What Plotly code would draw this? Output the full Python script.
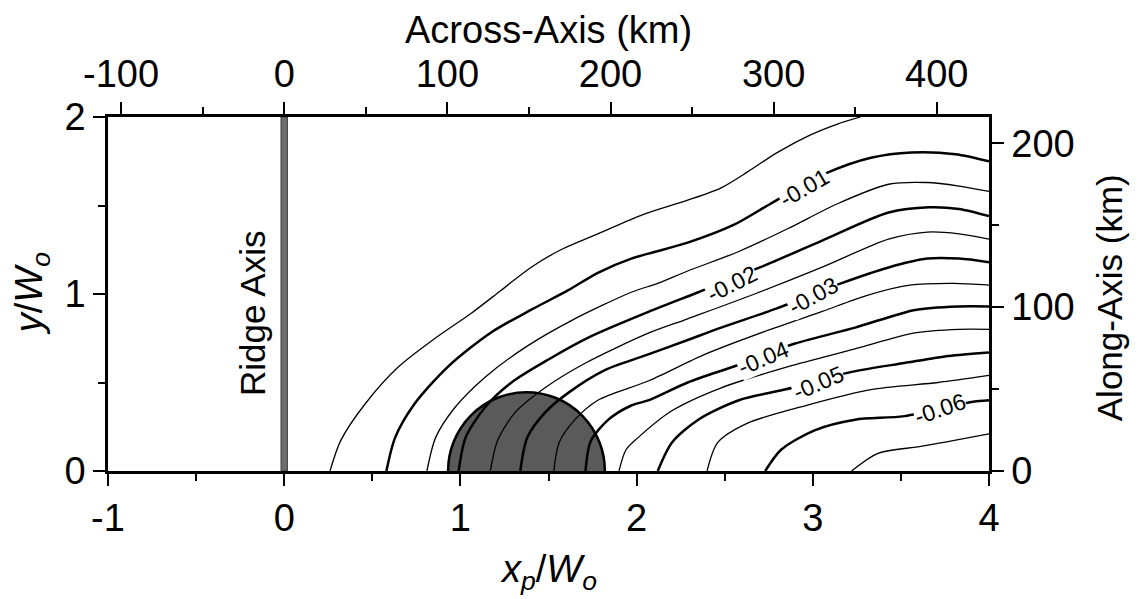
import plotly.graph_objects as go

# ---------------- data ----------------
W0_KM = 108.0  # km per unit of W0 (links top / right km axes)

x_ticks = [-1, 0, 1, 2, 3, 4]
y_ticks = [0, 1, 2]
across_ticks_km = [-100, 0, 100, 200, 300, 400]
along_ticks_km = [0, 100, 200]

levels = [-0.005, -0.01, -0.015, -0.02, -0.025, -0.03, -0.035,
          -0.04, -0.045, -0.05, -0.055, -0.06, -0.065]

c005_x = [0.26, 0.32, 0.46, 0.65, 0.87, 1.06, 1.23, 1.40, 1.57, 1.78, 2.04, 2.29, 2.48, 2.63, 2.80, 2.99, 3.14, 3.27]
c005_y = [0.00, 0.17, 0.38, 0.59, 0.76, 0.89, 1.02, 1.15, 1.25, 1.34, 1.45, 1.53, 1.60, 1.69, 1.80, 1.90, 1.96, 2.00]

c010_x = [0.58, 0.63, 0.74, 0.93, 1.17, 1.40, 1.61, 1.78, 1.97, 2.29, 2.55, 2.76, 3.07, 3.33, 3.56, 3.81, 4.00]
c010_y = [0.00, 0.19, 0.38, 0.59, 0.78, 0.91, 1.02, 1.12, 1.20, 1.29, 1.39, 1.51, 1.68, 1.77, 1.80, 1.79, 1.75]

c015_x = [0.81, 0.86, 0.97, 1.14, 1.37, 1.63, 1.97, 2.12, 2.29, 2.58, 2.86, 3.14, 3.43, 3.65, 3.83, 4.00]
c015_y = [0.00, 0.19, 0.36, 0.53, 0.70, 0.85, 1.01, 1.06, 1.13, 1.24, 1.37, 1.51, 1.62, 1.63, 1.61, 1.58]

c020_x = [0.99, 1.03, 1.14, 1.29, 1.50, 1.74, 2.07, 2.35, 2.70, 3.05, 3.43, 3.66, 3.83, 4.00]
c020_y = [0.00, 0.19, 0.36, 0.50, 0.63, 0.76, 0.90, 1.01, 1.15, 1.30, 1.46, 1.49, 1.48, 1.44]

c025_x = [1.17, 1.21, 1.31, 1.48, 1.71, 2.07, 2.29, 2.67, 3.05, 3.43, 3.65, 3.83, 4.00]
c025_y = [0.00, 0.17, 0.33, 0.47, 0.61, 0.78, 0.86, 1.00, 1.15, 1.31, 1.35, 1.34, 1.31]

c030_x = [1.34, 1.38, 1.48, 1.61, 1.82, 2.07, 2.29, 2.48, 2.80, 3.16, 3.43, 3.65, 3.83, 4.00]
c030_y = [0.00, 0.19, 0.33, 0.44, 0.57, 0.66, 0.74, 0.81, 0.92, 1.06, 1.15, 1.20, 1.20, 1.18]

c035_x = [1.53, 1.56, 1.65, 1.78, 2.07, 2.39, 2.76, 3.05, 3.30, 3.55, 3.80, 4.00]
c035_y = [0.00, 0.16, 0.29, 0.40, 0.51, 0.66, 0.80, 0.90, 0.99, 1.05, 1.06, 1.05]

c040_x = [1.71, 1.74, 1.84, 1.97, 2.07, 2.29, 2.58, 2.90, 3.24, 3.58, 3.83, 4.00]
c040_y = [0.00, 0.17, 0.29, 0.37, 0.40, 0.50, 0.60, 0.72, 0.81, 0.91, 0.93, 0.93]

c045_x = [1.90, 1.94, 2.01, 2.20, 2.48, 2.86, 3.24, 3.58, 3.83, 4.00]
c045_y = [0.00, 0.12, 0.19, 0.34, 0.47, 0.59, 0.69, 0.78, 0.80, 0.80]

c050_x = [2.12, 2.20, 2.35, 2.58, 2.84, 3.22, 3.52, 3.77, 4.00]
c050_y = [0.00, 0.16, 0.29, 0.40, 0.46, 0.56, 0.61, 0.65, 0.67]

c055_x = [2.40, 2.46, 2.63, 2.96, 3.33, 3.71, 4.00]
c055_y = [0.00, 0.16, 0.27, 0.37, 0.46, 0.50, 0.54]

c060_x = [2.73, 2.82, 3.01, 3.24, 3.52, 3.90, 4.00]
c060_y = [0.00, 0.12, 0.23, 0.29, 0.31, 0.39, 0.40]

c065_x = [3.22, 3.37, 3.62, 4.00]
c065_y = [0.00, 0.10, 0.14, 0.21]

label_text = ["-0.01", "-0.02", "-0.03", "-0.04", "-0.05", "-0.06"]
label_x = [2.95, 2.54, 3.00, 2.72, 3.03, 3.72]
label_y = [1.60, 1.055, 0.99, 0.64, 0.50, 0.35]
label_angle = [-30, -27, -29, -23, -23, -19]

plume_center_x = 1.375
plume_radius = 0.445
ridge_x = 0.0

# ---------------- figure ----------------
FONT = "Liberation Sans, Arial, Helvetica, sans-serif"
fig = go.Figure()

contours_x = [c005_x, c010_x, c015_x, c020_x, c025_x, c030_x, c035_x,
              c040_x, c045_x, c050_x, c055_x, c060_x, c065_x]
contours_y = [c005_y, c010_y, c015_y, c020_y, c025_y, c030_y, c035_y,
              c040_y, c045_y, c050_y, c055_y, c060_y, c065_y]

for lev, cx, cy in zip(levels, contours_x, contours_y):
    major = abs(round(lev * 1000)) % 10 == 0
    fig.add_trace(go.Scatter(
        x=cx, y=cy, mode="lines",
        line=dict(color="black", width=2.5 if major else 1.3, shape="spline", smoothing=0.8),
        showlegend=False, hoverinfo="skip", name=str(lev)))

# invisible traces to activate the km axes
fig.add_trace(go.Scatter(x=[None], y=[None], xaxis="x2", yaxis="y", showlegend=False))
fig.add_trace(go.Scatter(x=[None], y=[None], xaxis="x", yaxis="y2", showlegend=False))

# plume (semicircle) and ridge axis bar
fig.add_shape(type="circle", xref="x", yref="y",
              x0=plume_center_x - plume_radius, x1=plume_center_x + plume_radius,
              y0=-plume_radius, y1=plume_radius,
              fillcolor="#5a5a5a", line=dict(color="black", width=2.5), layer="below")
fig.add_shape(type="rect", xref="x", yref="y",
              x0=ridge_x - 0.018, x1=ridge_x + 0.018, y0=0, y1=2,
              fillcolor="#6e6e6e", line=dict(color="#3a3a3a", width=1), layer="below")

for t, lx, ly, ang in zip(label_text, label_x, label_y, label_angle):
    fig.add_annotation(x=lx, y=ly, xref="x", yref="y", text=t, showarrow=False,
                       textangle=ang, bgcolor="white", borderpad=0,
                       xanchor="center", yanchor="middle",
                       font=dict(family=FONT, size=23, color="black"))

fig.add_annotation(x=ridge_x - 0.18, y=0.89, xref="x", yref="y", text="Ridge Axis",
                   showarrow=False, textangle=-90, xanchor="center", yanchor="middle",
                   font=dict(family=FONT, size=35, color="black"))

# axis titles
TF = dict(family=FONT, size=38, color="black")
fig.add_annotation(x=0.5, y=1.245, xref="paper", yref="paper", text="Across-Axis (km)",
                   showarrow=False, xanchor="center", yanchor="middle", font=TF)
fig.add_annotation(x=0.5, y=-0.285, xref="paper", yref="paper",
                   text="<i>x</i><sub><i>p</i></sub>/<i>W</i><sub><i>o</i></sub>",
                   showarrow=False, xanchor="center", yanchor="middle", font=TF)
fig.add_annotation(x=-0.086, y=0.5, xref="paper", yref="paper",
                   text="<i>y</i>/<i>W</i><sub><i>o</i></sub>", textangle=-90,
                   showarrow=False, xanchor="center", yanchor="middle", font=TF)
fig.add_annotation(x=1.137, y=0.49, xref="paper", yref="paper",
                   text="Along-Axis (km)", textangle=-90,
                   showarrow=False, xanchor="center", yanchor="middle",
                   font=dict(family=FONT, size=35, color="black"))

tickfont = dict(family=FONT, size=38, color="black")
common = dict(showline=True, linecolor="black", linewidth=2.5, ticks="outside",
              ticklen=12, tickwidth=1.5, tickcolor="black", showgrid=False,
              zeroline=False, tickfont=tickfont, automargin=False)
minor_style = dict(ticks="outside", ticklen=7, tickcolor="black", tickwidth=1.5)

# page body adds an 8px offset, so the figure is drawn 8px smaller with shifted margins
fig.update_layout(
    width=1131, height=591,
    margin=dict(l=100, r=150, t=109, b=128),
    paper_bgcolor="white", plot_bgcolor="white",
    xaxis=dict(range=[-1, 4], tickvals=x_ticks, ticktext=[str(v) for v in x_ticks],
               minor=dict(dtick=0.5, **minor_style), **common),
    yaxis=dict(range=[0, 2], tickvals=y_ticks, ticktext=[str(v) for v in y_ticks],
               minor=dict(dtick=0.5, **minor_style), **common),
    xaxis2=dict(range=[-1 * W0_KM, 4 * W0_KM], overlaying="x", side="top",
                tickvals=across_ticks_km, ticktext=[str(v) for v in across_ticks_km],
                minor=dict(dtick=50, **minor_style), **common),
    yaxis2=dict(range=[0, 2 * W0_KM], overlaying="y", side="right",
                tickvals=along_ticks_km, ticktext=[str(v) for v in along_ticks_km],
                minor=dict(dtick=50, **minor_style), **common),
)

fig.write_html("out.html")
